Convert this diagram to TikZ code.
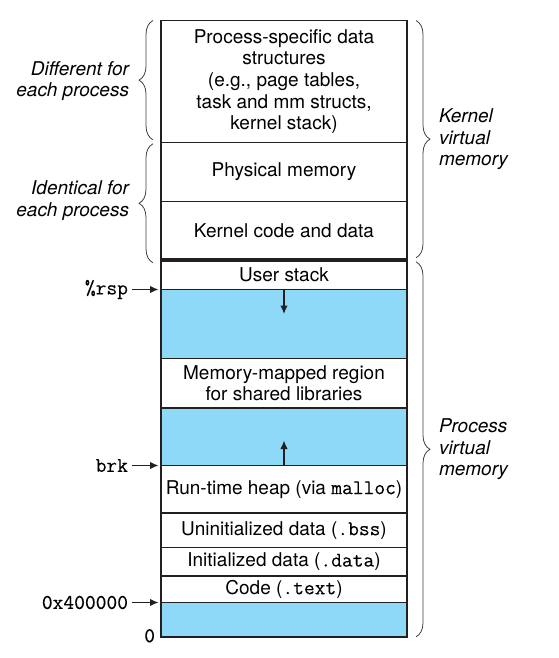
\documentclass[tikz,border=0pt]{standalone}
\usepackage{fontspec}
\setmainfont{TeX Gyre Heros}
\setmonofont[Scale=1.1, FakeBold=0.2]{Latin Modern Mono}
\usetikzlibrary{arrows,arrows.meta}
\usetikzlibrary{positioning,decorations.pathreplacing}
\definecolor{gapblue}{HTML}{8ED8F8}
\definecolor{edgegray}{HTML}{231F20}

\begin{document}
\begin{tikzpicture}[%
        x=1pt, y=-1pt,
        every node/.style={inner sep=0pt, outer sep=0pt, font=\fontsize{19}{21.6}\selectfont},
        region/.style={rectangle, draw=edgegray, line width=1.4pt, minimum width=246pt, align=center},
        gap/.style={region, fill=gapblue},
        ptr/.style={->, line width=1.3pt, draw=edgegray},
        brc/.style={decorate, decoration={brace, amplitude=14pt}, line width=0.8pt, draw=black!75},
        side/.style={font=\fontsize{19}{21.6}\selectfont\itshape},
        node distance=0pt, >={Latex[length=8.5pt,width=7.5pt]}
      ]
      \useasboundingbox (0,0) rectangle (559,658);
      \node [region, minimum height=122pt, anchor=north] (pstruct) at (284,20.5) {Process-specific data\\structures\\(e.g., page tables,\\task and mm structs,\\kernel stack)};
      \node [region, minimum height=59pt, below=of pstruct] (phys) {Physical memory};
      \node [region, minimum height=58.3pt, below=of phys] (kcode) {Kernel code and data};
      \node [region, minimum height=29.7pt, below=of kcode] (ustack) {User stack};
      \node [gap, minimum height=69pt, below=of ustack] (gap1) {};
      \node [region, minimum height=49.6pt, below=of gap1] (mmap) {Memory-mapped region\\for shared libraries};
      \node [gap, minimum height=57.4pt, below=of mmap] (gap2) {};
      \node [region, minimum height=47.6pt, below=of gap2] (heap) {Run-time heap (via \texttt{malloc})};
      \node [region, minimum height=34.4pt, below=of heap] (bss) {Uninitialized data (\texttt{.bss})};
      \node [region, minimum height=28.3pt, below=of bss] (idata) {Initialized data (\texttt{.data})};
      \node [region, minimum height=26.7pt, below=of idata] (code) {Code (\texttt{.text})};
      \node [gap, minimum height=34.3pt, below=of code] (bot) {};
      \draw [line width=3.6pt, edgegray] (kcode.south west) -- (kcode.south east);

      % addresses on the left
      \node [anchor=east] (rsp) at ([xshift=-33pt]gap1.north west) {\texttt{\%rsp}};
      \node [anchor=east] (brk) at ([xshift=-33pt]gap2.south west) {\texttt{brk}};
      \node [anchor=east] (textstart) at ([xshift=-33pt]bot.north west) {\texttt{0x400000}};
      \node [anchor=east] (zero) at ([xshift=-6pt,yshift=1pt]bot.south west) {\texttt{0}};
      \path [draw] (rsp.east) edge[ptr, shorten <=4pt, shorten >=2.5pt] (gap1.north west)
      (brk.east) edge[ptr, shorten <=4pt, shorten >=2.5pt] (gap2.south west)
      (textstart.east) edge[ptr, shorten <=4pt, shorten >=2.5pt] (bot.north west);

      % growth of stack and heap
      \coordinate (stackend) at ([yshift=-24.5pt]gap1.north);
      \coordinate (heapend) at ([yshift=25pt]gap2.south);
      \draw [ptr] (gap1.north) -- (stackend);
      \draw [ptr] (gap2.south) -- (heapend);

      % braces
      \draw [brc] ([xshift=-8pt,yshift=2.7pt]pstruct.south west) -- ([xshift=-8pt]pstruct.north west);
      \draw [brc] ([xshift=-8pt,yshift=-3pt]kcode.south west) -- ([xshift=-8pt,yshift=-1.3pt]phys.north west);
      \draw [brc] ([xshift=9pt]pstruct.north east) -- ([xshift=9pt,yshift=2pt]kcode.south east);
      \draw [brc] ([xshift=9pt,yshift=-2pt]ustack.north east) -- ([xshift=9pt]bot.south east);
      \node [side, anchor=east, align=right] (different) at (129,81) {Different for\\each process};
      \node [side, anchor=east, align=right] (identical) at (129,200.7) {Identical for\\each process};
      \node [side, anchor=west, align=left] (kernelvm) at (439,139.3) {Kernel\\virtual\\memory};
      \node [side, anchor=west, align=left] (processvm) at (439,449.3) {Process\\virtual\\memory};
    \end{tikzpicture}
\end{document}
